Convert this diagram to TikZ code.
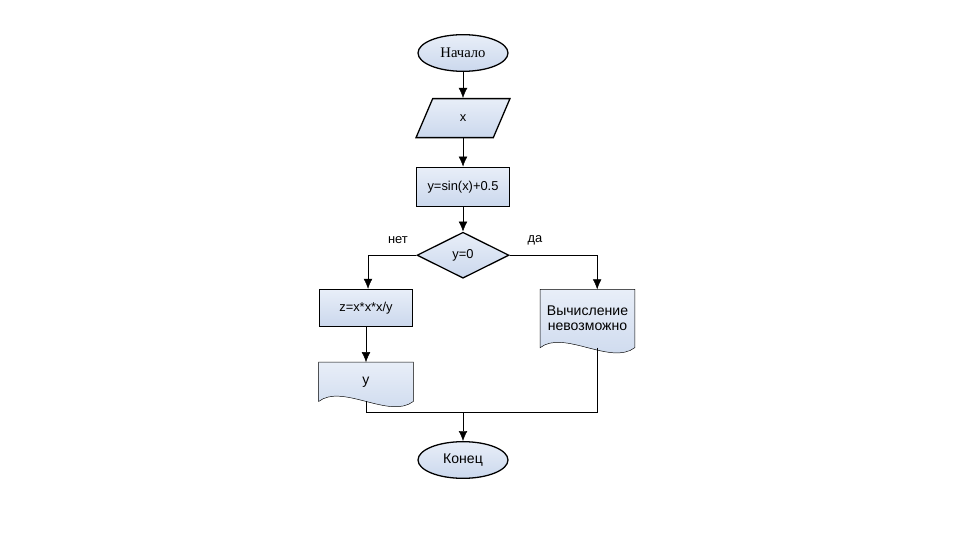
\documentclass[tikz,border=0pt]{standalone}
\usepackage{fontspec}
\setmainfont{Liberation Sans}
\newfontfamily\seriffont{Liberation Serif}
\usetikzlibrary{shapes.geometric}
\usetikzlibrary{backgrounds}
\usetikzlibrary{positioning}
\usetikzlibrary{calc}
\usetikzlibrary{arrows.meta}
\definecolor{boxfill}{RGB}{203,216,237}
\definecolor{boxtop}{RGB}{232,238,248}
\tikzset{every picture/.style={line width=1.1pt},
blk/.style={draw, top color=boxtop, bottom color=boxfill, font=\fontsize{11}{13}\selectfont},
term/.style={blk, ellipse, minimum width=2.7cm, minimum height=1.1cm, font=\fontsize{12}{14}\selectfont},
io/.style={blk, trapezium, trapezium left angle=75, trapezium right angle=105, trapezium stretches=true, minimum width=2.82cm, minimum height=1.17cm},
proc/.style={blk, rectangle, minimum width=2.8cm, minimum height=1.17cm},
cond/.style={blk, diamond, minimum width=2.76cm, minimum height=1.38cm, inner sep=0pt},
docnode/.style={rectangle, minimum width=2.8cm, minimum height=1.14cm, align=center, font=\fontsize{12}{12.5}\selectfont},
arr/.style={-{Latex[length=3mm,width=2.6mm]}}}
\newcommand\docpath[1]{%
\draw[blk] (#1.north west) -- (#1.north east) -- (#1.south east)
.. controls ($(#1.south east)!0.25!(#1.south west)+(0,-0.55cm)$) and ($(#1.south east)!0.75!(#1.south west)+(0,0.55cm)$) .. (#1.south west) -- cycle;}

\begin{document}
\begin{tikzpicture}[x=0.03cm,y=-0.03cm]
\useasboundingbox (0,0) rectangle (960,540);
\node (start) [term, font=\seriffont\fontsize{12.5}{14}\selectfont] at (463,53) {Начало};
\node (inx) [io, below=0.78cm of start] {x};
\node (calc) [proc, below=0.85cm of inx] {y=sin(x)+0.5};
\node (test) [cond, below=0.74cm of calc] {y=0};
\node (mult) [proc, minimum height=1.11cm] at (366,308) {z=x*x*x/y};
\node (outp) [docnode, below=1.05cm of mult] {y};
\node (msg) [docnode, minimum height=1.71cm] at (587.5,318.5) {Вычисление\\невозможно};
\node (stop) [term] at (463,460) {Конец};
\begin{pgfonlayer}{background}
\docpath{outp}
\docpath{msg}
\end{pgfonlayer}
\coordinate (join) at (463,412);
\node (no) [font=\fontsize{11}{13}\selectfont] at (398,240) {нет};
\node (yes) [font=\fontsize{11}{13}\selectfont] at (535,240) {да};
\draw[arr] (start.south) -- (inx.north);
\draw[arr] (inx.south) -- (calc.north);
\draw[arr] (calc) -- (test);
\draw[arr] (test.west) -| ([xshift=0.06cm]mult.north);
\draw[arr] (test.east) -| ([xshift=0.29cm]msg.north);
\draw[arr] (mult) -- (outp);
\draw (outp.south) |- (join);
\draw ([xshift=0.29cm]msg.south) |- (join);
\draw[arr] (join) -- (stop);
\end{tikzpicture}
\end{document}
